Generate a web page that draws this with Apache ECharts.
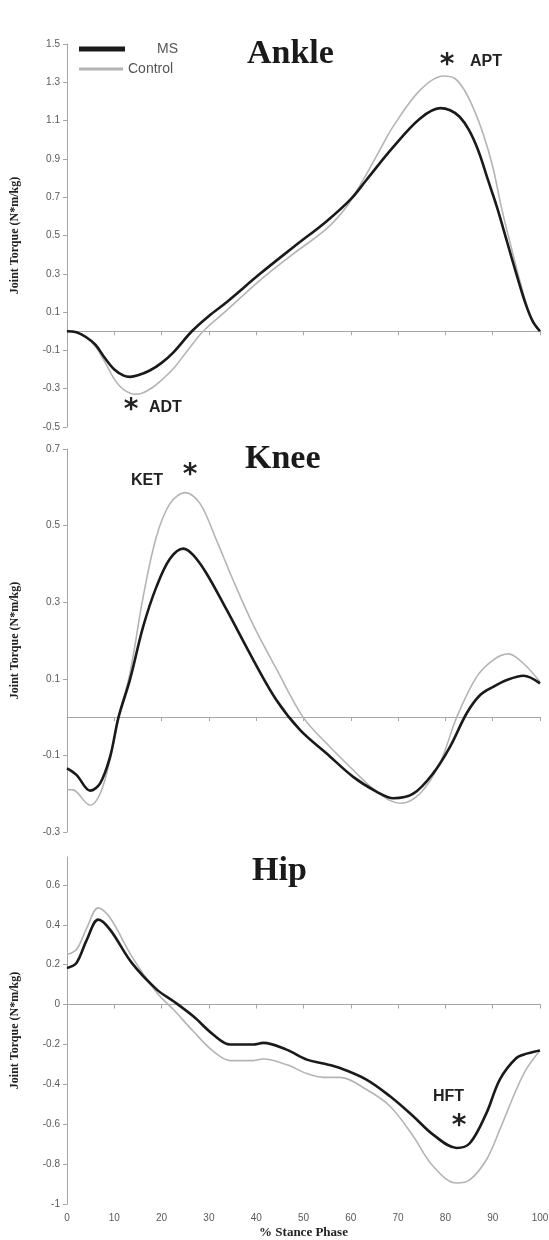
<!DOCTYPE html>
<html><head><meta charset="utf-8">
<script src="https://cdn.jsdelivr.net/npm/echarts@6/dist/echarts.min.js"></script>
<style>html,body{margin:0;padding:0;background:#fff}#c{width:549px;height:1240px}</style>
</head><body><div id="c"></div>
<script>
// ---------- DATA ----------
const xTicks = [0, 10, 20, 30, 40, 50, 60, 70, 80, 90, 100];
const seriesNames = ['MS', 'Control'];
const panelTitles = ['Ankle', 'Knee', 'Hip'];

const ankleMsX = [0, 2, 4, 6, 8, 10, 12, 13.3, 15, 17.5, 20, 22.5, 26.4, 30, 33.8, 40.8, 47.9, 54.9, 60, 63.3, 68.9, 74.6, 78.9, 81, 83, 85, 87, 89, 91, 93, 95, 97, 98.5, 100];
const ankleMs  = [0, -0.005, -0.03, -0.07, -0.14, -0.2, -0.232, -0.238, -0.23, -0.205, -0.165, -0.11, 0, 0.08, 0.153, 0.3, 0.44, 0.575, 0.69, 0.79, 0.96, 1.11, 1.165, 1.154, 1.12, 1.05, 0.94, 0.79, 0.64, 0.47, 0.3, 0.14, 0.05, 0];
const ankleCtX = [0, 2, 4, 6, 8, 10, 12, 14.4, 16, 18, 20, 22.5, 25.5, 28.8, 33.8, 40.8, 47.9, 54.9, 59.1, 62.6, 66.1, 68.9, 74.6, 79.6, 82, 84, 86, 88, 90, 92, 94, 96, 98, 100];
const ankleCt  = [0, -0.005, -0.03, -0.08, -0.16, -0.25, -0.305, -0.329, -0.322, -0.295, -0.255, -0.195, -0.1, 0, 0.11, 0.266, 0.405, 0.536, 0.65, 0.79, 0.945, 1.067, 1.258, 1.333, 1.32, 1.26, 1.16, 1.03, 0.86, 0.63, 0.43, 0.24, 0.08, 0];

const kneeMsX = [0, 2, 4.9, 7, 9.1, 10.9, 13.3, 16.1, 18.9, 21.8, 24.6, 26.7, 29.5, 33.8, 39.4, 44.3, 49.3, 54.9, 60.5, 65.5, 69, 73.2, 77.4, 81, 84.5, 87.3, 90.1, 93, 96.5, 100];
const kneeMs  = [-0.134, -0.151, -0.192, -0.173, -0.104, 0, 0.097, 0.236, 0.34, 0.414, 0.44, 0.423, 0.375, 0.279, 0.149, 0.044, -0.034, -0.095, -0.156, -0.195, -0.212, -0.2, -0.147, -0.077, 0.01, 0.057, 0.079, 0.097, 0.108, 0.088];
const kneeCtX = [0, 1.3, 4.9, 7, 9.1, 10.9, 13.3, 16.1, 18.9, 21.8, 25, 28.1, 31.6, 35.1, 39.4, 44.3, 49.9, 54.9, 60.5, 65.5, 70.4, 74.6, 78.8, 82.4, 86.6, 90.1, 93.3, 96.5, 100];
const kneeCt  = [-0.189, -0.19, -0.23, -0.2, -0.112, 0, 0.114, 0.314, 0.471, 0.558, 0.586, 0.558, 0.462, 0.358, 0.24, 0.125, 0, -0.069, -0.138, -0.195, -0.225, -0.2, -0.121, 0, 0.105, 0.149, 0.165, 0.14, 0.092];

const hipX  = [0, 2, 4.2, 6.6, 9.1, 13.7, 19, 22.5, 26.7, 30.9, 34.5, 39.4, 41.5, 46.4, 50.7, 54.2, 57.7, 63.3, 68.3, 73.2, 77.4, 82.4, 85.2, 88.7, 91.5, 95, 97.2, 100];
const hipMs = [0.184, 0.209, 0.326, 0.426, 0.376, 0.209, 0.075, 0.017, -0.059, -0.15, -0.2, -0.2, -0.192, -0.226, -0.276, -0.296, -0.318, -0.376, -0.46, -0.56, -0.652, -0.719, -0.694, -0.543, -0.376, -0.268, -0.246, -0.23];
const hipCt = [0.251, 0.276, 0.385, 0.485, 0.435, 0.242, 0.059, -0.025, -0.134, -0.234, -0.281, -0.281, -0.273, -0.301, -0.346, -0.365, -0.365, -0.426, -0.51, -0.66, -0.811, -0.895, -0.878, -0.777, -0.627, -0.426, -0.32, -0.23];

const ankleYTicks = [-0.5, -0.3, -0.1, 0.1, 0.3, 0.5, 0.7, 0.9, 1.1, 1.3, 1.5];
const kneeYTicks = [-0.3, -0.1, 0.1, 0.3, 0.5, 0.7];
const hipYTicks = [-1, -0.8, -0.6, -0.4, -0.2, 0, 0.2, 0.4, 0.6];

const annotations = [
  {star: '*', label: 'APT', starAt: [447, 66], labelAt: [470, 62]},
  {star: '*', label: 'ADT', starAt: [131, 411], labelAt: [149, 408]},
  {star: '*', label: 'KET', starAt: [190, 476], labelAt: [131, 481]},
  {star: '*', label: 'HFT', starAt: [459, 1127], labelAt: [433, 1097]}
];

// ---------- CHART ----------
const zip = (xs, ys) => xs.map((x, i) => [x, ys[i]]);
const fmt = v => String(parseFloat(Number(v).toFixed(2)));
const AX = '#a6a6a6';
const LBL = {color: '#595959', fontSize: 10, fontFamily: 'Liberation Sans'};

function yAxis(grid, min, max, ticks) {
  return {
    type: 'value', gridIndex: grid, min: min, max: max, interval: 0.2,
    name: 'Joint Torque (N*m/kg)', nameLocation: 'middle', nameGap: 46,
    nameTextStyle: {fontFamily: 'Liberation Serif', fontWeight: 'bold', fontSize: 12, color: '#222'},
    axisLine: {show: true, lineStyle: {color: AX, width: 1}},
    axisTick: {show: true, length: 4, lineStyle: {color: AX}, customValues: ticks},
    axisLabel: Object.assign({margin: 7, formatter: fmt, customValues: ticks}, LBL),
    splitLine: {show: false}
  };
}
function xAxisZero(grid) {
  return {
    type: 'value', gridIndex: grid, min: 0, max: 100, interval: 10,
    axisLine: {show: true, onZero: true, lineStyle: {color: AX, width: 1}},
    axisTick: {show: true, length: 4, lineStyle: {color: AX}},
    axisLabel: {show: false}, splitLine: {show: false}
  };
}
const lineSeries = (name, data, xi, yi) => ({
  name: name, type: 'line', xAxisIndex: xi, yAxisIndex: yi, data: data,
  smooth: 0.35, symbol: 'none', silent: true,
  lineStyle: name === 'MS' ? {color: '#1a1a1a', width: 2.6} : {color: '#b4b4b4', width: 1.6},
  itemStyle: {color: name === 'MS' ? '#1a1a1a' : '#b4b4b4'}
});

const titleStyle = {fontFamily: 'Liberation Serif', fontWeight: 'bold', fontSize: 34, color: '#1a1a1a'};
const annStyle = {fontFamily: 'Liberation Sans', fontWeight: 'bold', fontSize: 16, fill: '#222'};
const graphics = [];
annotations.forEach(a => {
  graphics.push({type: 'text', x: a.labelAt[0], y: a.labelAt[1],
    style: Object.assign({text: a.label, textVerticalAlign: 'middle'}, annStyle)});
  graphics.push({type: 'text', x: a.starAt[0], y: a.starAt[1],
    style: {text: a.star, textAlign: 'center', textVerticalAlign: 'middle', fontFamily: 'DejaVu Sans', fontWeight: 'bold', fontSize: 28, fill: '#222'}});
});

const legendText = {color: '#555', fontSize: 14, fontFamily: 'Liberation Sans'};
const chart = echarts.init(document.getElementById('c'), null, {renderer: 'canvas'});
chart.setOption({
  animation: false,
  backgroundColor: '#fff',
  title: [
    {text: panelTitles[0], left: 247, top: 37, padding: 0, textStyle: titleStyle},
    {text: panelTitles[1], left: 245, top: 442, padding: 0, textStyle: titleStyle},
    {text: panelTitles[2], left: 252, top: 854, padding: 0, textStyle: titleStyle}
  ],
  legend: [
    {data: [seriesNames[0]], left: 79, top: 42, itemWidth: 46, itemHeight: 5, icon: 'rect', padding: 0, itemGap: 0,
     formatter: n => '{a|' + n + '}', textStyle: Object.assign({rich: {a: Object.assign({width: 48, align: 'right'}, legendText)}}, legendText)},
    {data: [seriesNames[1]], left: 79, top: 62, itemWidth: 44, itemHeight: 3, icon: 'rect', padding: 0, itemGap: 0,
     textStyle: legendText}
  ],
  grid: [
    {left: 67, right: 9, top: 44, height: 383, outerBoundsMode: 'none'},
    {left: 67, right: 9, top: 449, height: 383, outerBoundsMode: 'none'},
    {left: 67, right: 9, top: 857, height: 347, outerBoundsMode: 'none'}
  ],
  xAxis: [
    xAxisZero(0), xAxisZero(1), xAxisZero(2),
    {type: 'value', gridIndex: 2, min: 0, max: 100, interval: 10, position: 'bottom',
     name: '% Stance Phase', nameLocation: 'middle', nameGap: 22,
     nameTextStyle: {fontFamily: 'Liberation Serif', fontWeight: 'bold', fontSize: 13, color: '#222'},
     axisLine: {show: false, onZero: false}, axisTick: {show: false},
     axisLabel: Object.assign({margin: 9, customValues: xTicks}, LBL), splitLine: {show: false}}
  ],
  yAxis: [
    yAxis(0, -0.5, 1.5, ankleYTicks),
    yAxis(1, -0.3, 0.7, kneeYTicks),
    yAxis(2, -1, 0.74, hipYTicks)
  ],
  graphic: graphics,
  series: [
    lineSeries('Control', zip(ankleCtX, ankleCt), 0, 0),
    lineSeries('MS', zip(ankleMsX, ankleMs), 0, 0),
    lineSeries('Control', zip(kneeCtX, kneeCt), 1, 1),
    lineSeries('MS', zip(kneeMsX, kneeMs), 1, 1),
    lineSeries('Control', zip(hipX, hipCt), 2, 2),
    lineSeries('MS', zip(hipX, hipMs), 2, 2)
  ]
});
</script></body></html>
